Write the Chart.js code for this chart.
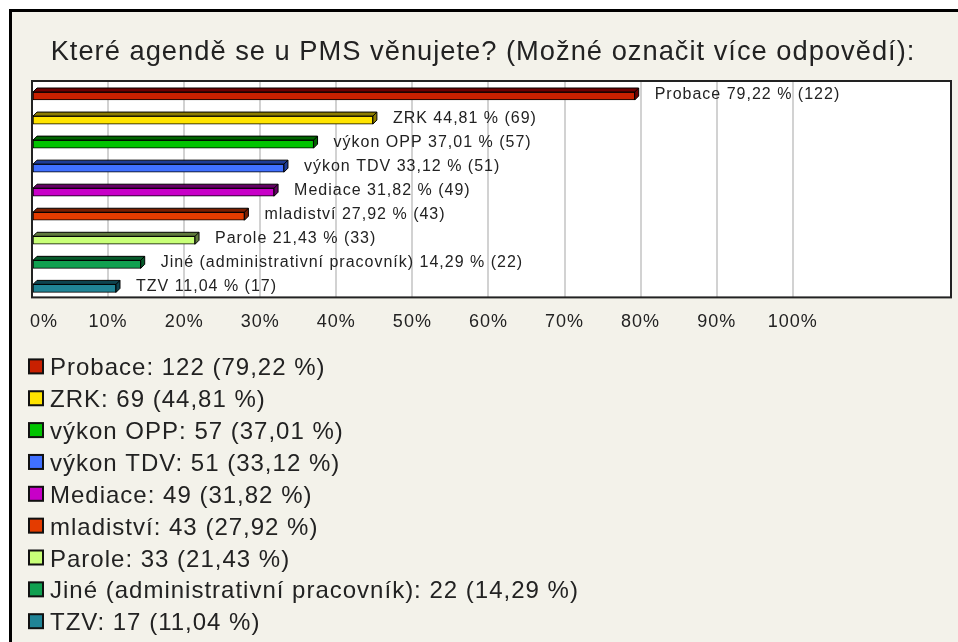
<!DOCTYPE html>
<html>
<head>
<meta charset="utf-8">
<script src="https://cdn.jsdelivr.net/npm/chart.js@4"></script>
<style>
html, body { margin: 0; padding: 0; background: #fff; }
#wrap { position: relative; width: 958px; height: 642px; overflow: hidden; }
#frame { position: absolute; left: 9px; top: 9px; width: 960px; height: 650px;
	border-left: 3px solid #000; border-top: 3px solid #000; background: #f3f2ea; }
canvas { position: absolute; left: 0; top: 0; }
</style>
</head>
<body>
<div id="wrap">
	<div id="frame"></div>
	<canvas id="graphique" width="958" height="642"></canvas>
</div>
<script>
// Données du graphique
const titre = "Které agendě se u PMS věnujete? (Možné označit více odpovědí):";
const categories = ["Probace", "ZRK", "výkon OPP", "výkon TDV", "Mediace", "mladiství", "Parole", "Jiné (administrativní pracovník)", "TZV"];
const pocty = [122, 69, 57, 51, 49, 43, 33, 22, 17];
const procenta = [79.22, 44.81, 37.01, 33.12, 31.82, 27.92, 21.43, 14.29, 11.04];
const xTicks = [0, 10, 20, 30, 40, 50, 60, 70, 80, 90, 100];

const couleurs = ["#c82000", "#ffe400", "#00c400", "#4070ff", "#c800c8", "#e43c00", "#c8ff78", "#10a050", "#208496"];
const couleursSombres = ["#6e0000", "#8c7c00", "#006400", "#1e3c96", "#640064", "#7a1e00", "#607a3c", "#065a2a", "#0e4450"];

const TEXTE = "#222";
const POLICE = "'Liberation Sans', Arial, sans-serif";
const DECALAGE = 3; // décalage vertical des barres dans leur ligne
const PROF = 4; // profondeur de l'effet 3D

function fmt(p) {
	return p.toFixed(2).replace(".", ",");
}

// fond blanc + cadre de la zone de tracé, titre, espacement des lettres
const fondPlugin = {
	id: "fond",
	beforeDraw(chart) {
		const ctx = chart.ctx;
		ctx.letterSpacing = "1px";
		const a = chart.chartArea;
		ctx.save();
		ctx.fillStyle = "#fff";
		ctx.fillRect(a.left, a.top, a.right - a.left, a.bottom - a.top);
		ctx.font = "27.3px " + POLICE;
		ctx.fillStyle = TEXTE;
		ctx.textAlign = "center";
		ctx.textBaseline = "alphabetic";
		ctx.fillText(titre, 483, 60);
		ctx.restore();
	},
	beforeDatasetsDraw(chart) {
		chart.ctx.save();
		chart.ctx.translate(0, DECALAGE);
	},
	afterDatasetsDraw(chart) {
		chart.ctx.restore();
		const ctx = chart.ctx;
		const a = chart.chartArea;
		ctx.save();
		ctx.strokeStyle = "#222";
		ctx.lineWidth = 2;
		ctx.strokeRect(a.left, a.top, a.right - a.left, a.bottom - a.top);
		ctx.restore();
	}
};

// face supérieure et latérale des barres (effet 3D)
const barre3dPlugin = {
	id: "barre3d",
	afterDatasetDraw(chart, args) {
		const ctx = chart.ctx;
		args.meta.data.forEach(function (el, i) {
			const p = el.getProps(["x", "y", "base", "height"], true);
			const haut = p.y - p.height / 2;
			const bas = p.y + p.height / 2;
			ctx.save();
			ctx.fillStyle = couleursSombres[i];
			ctx.strokeStyle = "#000";
			ctx.lineWidth = 1;
			ctx.beginPath();
			ctx.moveTo(p.base, haut);
			ctx.lineTo(p.base + PROF, haut - PROF);
			ctx.lineTo(p.x + PROF, haut - PROF);
			ctx.lineTo(p.x + PROF, bas - PROF);
			ctx.lineTo(p.x, bas);
			ctx.lineTo(p.x, haut);
			ctx.closePath();
			ctx.fill();
			ctx.stroke();
			ctx.beginPath();
			ctx.moveTo(p.x, haut);
			ctx.lineTo(p.x + PROF, haut - PROF);
			ctx.stroke();
			ctx.restore();
		});
	}
};

// étiquettes à droite des barres
const etiquettesPlugin = {
	id: "etiquettes",
	afterDraw(chart) {
		const ctx = chart.ctx;
		const meta = chart.getDatasetMeta(0);
		ctx.save();
		ctx.font = "16px " + POLICE;
		ctx.letterSpacing = "1px";
		ctx.fillStyle = TEXTE;
		ctx.textAlign = "left";
		ctx.textBaseline = "alphabetic";
		meta.data.forEach(function (el, i) {
			const t = categories[i] + " " + fmt(procenta[i]) + " % (" + pocty[i] + ")";
			ctx.fillText(t, el.x + PROF + 16, el.y + 6);
		});
		ctx.restore();
	}
};

// légende en liste sous le graphique
const legendePlugin = {
	id: "legende",
	afterDraw(chart) {
		const ctx = chart.ctx;
		const y0 = chart.chartArea.bottom + 78;
		const pas = 31.85;
		ctx.save();
		ctx.font = "24px " + POLICE;
		ctx.letterSpacing = "1px";
		ctx.textAlign = "left";
		ctx.textBaseline = "alphabetic";
		categories.forEach(function (c, i) {
			const yb = y0 + pas * i;
			ctx.fillStyle = couleurs[i];
			ctx.fillRect(29, yb - 16, 14, 14);
			ctx.strokeStyle = "#111";
			ctx.lineWidth = 2;
			ctx.strokeRect(29, yb - 16, 14, 14);
			ctx.fillStyle = TEXTE;
			ctx.fillText(c + ": " + pocty[i] + " (" + fmt(procenta[i]) + " %)", 50, yb);
		});
		ctx.restore();
	}
};

const data = {
	labels: categories,
	datasets: [{
		label: "Odpovědi",
		data: procenta,
		backgroundColor: couleurs,
		borderColor: "#000",
		borderWidth: 1,
		borderSkipped: false,
		barThickness: 8
	}]
};

const config = {
	type: "bar",
	data: data,
	options: {
		indexAxis: "y",
		responsive: false,
		animation: false,
		layout: {
			padding: { left: 32, right: 7, top: 81, bottom: 295 }
		},
		scales: {
			x: {
				type: "linear",
				min: 0,
				max: 120.8,
				border: { display: false },
				grid: {
					drawTicks: false,
					lineWidth: 2,
					color: function (c) {
						const v = c.tick ? c.tick.value : 0;
						return (v > 0 && v <= 100) ? "#d2d2d2" : "rgba(0,0,0,0)";
					}
				},
				afterBuildTicks: function (axis) {
					axis.ticks = xTicks.map(v => ({ value: v }));
				},
				afterFit: function (axis) {
					axis.paddingLeft = 0;
					axis.paddingRight = 0;
				},
				ticks: {
					autoSkip: false,
					maxRotation: 0,
					padding: 14,
					color: TEXTE,
					font: { family: POLICE, size: 18 },
					// le 0 % est calé sur le bord gauche comme dans l'original
					callback: function (v) { return v === 0 ? "    0%" : v + "%"; }
				}
			},
			y: {
				type: "category",
				display: false
			}
		},
		plugins: {
			legend: { display: false },
			tooltip: { enabled: false },
			title: { display: false }
		}
	},
	plugins: [fondPlugin, barre3dPlugin, etiquettesPlugin, legendePlugin]
};

const graphique = new Chart(document.querySelector("#graphique"), config);
</script>
</body>
</html>
